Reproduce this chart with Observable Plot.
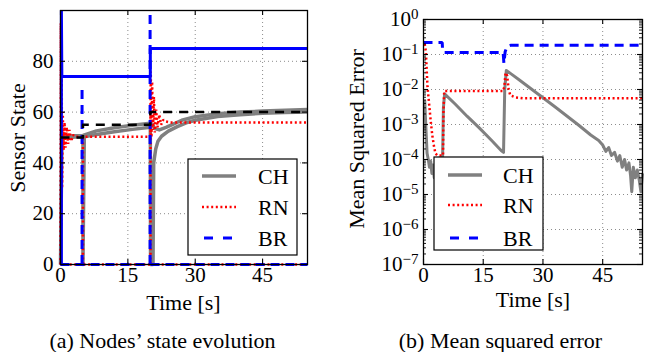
<!DOCTYPE html>
<html><head><meta charset="utf-8">
<script src="https://cdn.jsdelivr.net/npm/d3@7"></script>
<script src="https://cdn.jsdelivr.net/npm/@observablehq/plot@0.6"></script>
<style>
body{margin:0;background:#fff;}
#wrap{position:relative;width:645px;height:352px;font-family:"Liberation Serif","Times New Roman",serif;color:#000;overflow:hidden;}
#wrap svg{position:absolute;top:0;}
#wrap svg.pl text{font-family:"Liberation Serif","Times New Roman",serif !important;font-size:21px;fill:#000;}
#wrap svg.pl tspan.sup{font-size:15px;}
#wrap svg.ov text{font-family:"Liberation Serif","Times New Roman",serif;font-size:22px;fill:#000;}
</style></head><body>
<div id="wrap"></div>
<script>
// ---------- shared ----------
const xTicks = [0, 15, 30, 45];
const yTicksState = [0, 20, 40, 60, 80];
const mseExponents = [0, -1, -2, -3, -4, -5, -6, -7];
const seriesNames = ["CH", "RN", "BR"];
const xLabel = "Time [s]";
const yLabelA = "Sensor State";
const yLabelB = "Mean Squared Error";
const captionA = "(a) Nodes\u2019 state evolution";
const captionB = "(b) Mean squared error";

// ---------- panel (a): state evolution ----------
const refT = [0, 5, 5, 20, 20, 55];
const refV = [50, 50, 55, 55, 60, 60];

const chLoT = [0, 0.3, 0.6, 5, 5, 5.3, 8, 12, 16, 20, 20.05, 20.6, 20.75, 21.2, 21.7, 22.5, 24, 26, 28, 30, 35, 40, 45, 50, 55];
const chLoV = [0, 46, 50, 50.3, 0, 50.3, 51.2, 52.3, 53.2, 54, 0, 0, 40, 45.5, 48.5, 50.5, 52.5, 54.3, 55.8, 56.8, 58.3, 59, 59.5, 59.8, 60];
const chHiT = [0.3, 5, 8, 12, 16, 20, 20.5, 21, 22, 23.5, 25, 27, 30, 35, 40, 45, 50, 55];
const chHiV = [50.5, 50.8, 52.6, 53.8, 54.8, 55.6, 55, 53.5, 53, 54, 55.2, 56.8, 58.2, 59.4, 60, 60.4, 60.7, 61];

const rnAT = [0, 0.08, 0.15, 0.25, 0.35, 0.5, 0.7, 0.9, 1.1, 1.4, 1.7, 2.0, 2.4, 2.8, 3.2, 20, 20.1, 20.25, 20.4, 20.6, 20.8, 21.0, 21.3, 21.6, 22.0, 22.4, 22.9, 23.5, 24.5, 55];
const rnAV = [0, 95, 15, 85, 30, 60, 45, 56, 46, 54, 47.5, 53, 48.5, 51, 50.3, 50.3, 76, 50, 72, 53, 66, 52, 61, 54, 59, 55, 57, 56.3, 55.9, 55.9];
const rnJumpT = [5, 20.05];
const rnJumpTop = [50, 60];
const rnZeroT = [0, 55];
const rnZeroV = [0, 0];

const brAT = [0.2, 0.2, 0.3, 20, 20, 55];
const brAV = [0, 100, 74, 74, 85, 85];
const brSpikeT = [4.8, 19.95];
const brSpikeTop = [70, 100];
const brZeroT = [0, 55];
const brZeroV = [0, 0];

// ---------- panel (b): mean squared error ----------
const chMseT = [0.3, 0.6, 0.9, 1.2, 1.5, 1.8, 2.1, 2.4, 2.7, 3.0, 3.5, 4.0, 4.5, 4.8, 5.0, 5.3, 8, 11, 14, 17, 19.5, 20.1, 20.4, 20.8, 22, 24, 27, 30, 33, 36, 39, 42, 44, 45, 45.8, 46.5, 47.2, 48, 48.7, 49.3, 49.9, 50.5, 51, 51.6, 52, 52.3, 52.7, 53.2, 53.7, 54.2, 54.6, 55];
const chMseV = [5e-3, 8e-4, 1.5e-4, 1e-4, 6e-5, 9e-5, 4e-5, 7e-5, 3e-5, 8e-5, 1e-4, 1.1e-4, 1e-4, 1.2e-4, 3e-3, 7.5e-3, 3.8e-3, 1.7e-3, 8e-4, 3.6e-4, 1.8e-4, 1.6e-4, 1e-2, 3.5e-2, 2.8e-2, 1.9e-2, 1.05e-2, 5.8e-3, 3.2e-3, 1.75e-3, 9.5e-4, 5e-4, 3.5e-4, 2.6e-4, 1.7e-4, 2.2e-4, 1.3e-4, 1.6e-4, 9e-5, 1.3e-4, 6e-5, 1e-4, 5e-5, 8e-5, 3.5e-5, 1.2e-5, 6e-5, 3e-5, 5e-5, 2.5e-5, 1.2e-5, 4e-5];
const rnMseT = [0.3, 0.6, 1.0, 1.4, 1.8, 2.2, 2.6, 3.0, 3.5, 4.0, 4.5, 4.9, 5.0, 5.2, 20, 20.3, 20.6, 21.0, 21.4, 21.8, 22.3, 23, 24, 25, 55];
const rnMseV = [0.2, 0.12, 0.012, 0.004, 0.0013, 0.0005, 0.00025, 0.00015, 0.00013, 0.00013, 0.00013, 0.00013, 0.002, 0.009, 0.009, 0.012, 0.03, 0.025, 0.01, 0.0068, 0.0065, 0.006, 0.0058, 0.0056, 0.0056];
const brMseT = [0, 4.7, 4.8, 5.0, 20, 20.2, 20.5, 21, 22, 55];
const brMseV = [0.22, 0.22, 0.13, 0.115, 0.115, 0.055, 0.12, 0.17, 0.185, 0.185];

// ---------- helpers & styles ----------
const pts = (ts, vs) => ts.map((t, i) => ({t, v: vs[i]}));
const spikes = (ts, tops) => ts.map((t, i) => ({t, top: tops[i]}));
const sty = {
  CH: {stroke: "#808080", strokeWidth: 3.5, strokeLinecap: "butt", strokeLinejoin: "round"},
  RN: {stroke: "#ff0000", strokeWidth: 2.5, strokeDasharray: "2,2.6", strokeLinecap: "butt", strokeLinejoin: "miter"},
  BR: {stroke: "#0000ff", strokeWidth: 3, strokeDasharray: "9,6", strokeLinecap: "butt", strokeLinejoin: "miter"},
  BRsolid: {stroke: "#0000ff", strokeWidth: 3, strokeLinecap: "butt", strokeLinejoin: "miter"},
  REF: {stroke: "#000", strokeWidth: 2.5, strokeDasharray: "9,7", strokeLinecap: "butt"}
};
const gridSty = {stroke: "#8c8c8c", strokeWidth: 1, strokeDasharray: "1,3", strokeOpacity: 1};
const tickSty = {stroke: "#000", strokeWidth: 1.1};
const fontStyle = {fontFamily: "Liberation Serif", fontSize: "21px", background: "transparent", overflow: "visible", color: "#000"};

function inwardTicks(xs, ys, pw, ph, len) {
  return [
    Plot.ruleX(xs, {x: d => d, insetTop: ph - len, ...tickSty}),
    Plot.ruleX(xs, {x: d => d, insetBottom: ph - len, ...tickSty}),
    Plot.ruleY(ys, {y: d => d, insetRight: pw - len, ...tickSty}),
    Plot.ruleY(ys, {y: d => d, insetLeft: pw - len, ...tickSty})
  ];
}

const wrap = document.getElementById("wrap");

// ---------- left plot ----------
const L = {w: 330, h: 300, ml: 60, mr: 23, mt: 10, mb: 36};
const LPW = L.w - L.ml - L.mr, LPH = L.h - L.mt - L.mb;
const left = Plot.plot({
  width: L.w, height: L.h,
  marginLeft: L.ml, marginRight: L.mr, marginTop: L.mt, marginBottom: L.mb,
  style: fontStyle,
  x: {domain: [0, 55], ticks: xTicks, tickSize: 0, tickPadding: 3, label: null},
  y: {domain: [0, 100], ticks: yTicksState, tickSize: 0, tickPadding: 7, label: null},
  marks: [
    Plot.ruleY(yTicksState.filter(d => d > 0), {y: d => d, ...gridSty}),
    Plot.ruleX(xTicks.filter(d => d > 0), {x: d => d, ...gridSty}),
    Plot.line(pts(chLoT, chLoV), {x: "t", y: "v", ...sty.CH}),
    Plot.line(pts(chHiT, chHiV), {x: "t", y: "v", ...sty.CH}),
    Plot.line(pts(rnZeroT, rnZeroV), {x: "t", y: "v", ...sty.RN}),
    Plot.ruleX(spikes(rnJumpT, rnJumpTop), {x: "t", y1: 0, y2: "top", ...sty.RN}),
    Plot.line(pts(rnAT, rnAV), {x: "t", y: "v", ...sty.RN}),
    Plot.line(pts(brZeroT, brZeroV), {x: "t", y: "v", ...sty.BR}),
    Plot.ruleX(spikes(brSpikeT, brSpikeTop), {x: "t", y1: 0, y2: "top", ...sty.BR}),
    Plot.line(pts(brAT, brAV), {x: "t", y: "v", ...sty.BRsolid}),
    Plot.line(pts(refT, refV), {x: "t", y: "v", ...sty.REF}),
    ...inwardTicks(xTicks, yTicksState, LPW, LPH, 5),
    Plot.frame({stroke: "#000", strokeWidth: 1.3})
  ]
});
left.classList.add("pl");
left.style.left = "0px";
wrap.appendChild(left);

// ---------- right plot ----------
const R = {w: 315, h: 300, ml: 93, mr: 3, mt: 19, mb: 36};
const RPW = R.w - R.ml - R.mr, RPH = R.h - R.mt - R.mb;
const majorVals = mseExponents.map(e => Math.pow(10, e));
const minorVals = [];
mseExponents.filter(e => e < 0).forEach(e => { for (let m = 2; m <= 9; m++) minorVals.push(m * Math.pow(10, e)); });
const right = Plot.plot({
  width: R.w, height: R.h,
  marginLeft: R.ml, marginRight: R.mr, marginTop: R.mt, marginBottom: R.mb,
  style: fontStyle,
  x: {domain: [0, 55], ticks: xTicks, tickSize: 0, tickPadding: 3, label: null},
  y: {type: "log", domain: [1e-7, 1], ticks: majorVals, tickSize: 0, tickPadding: 5, label: null,
      tickFormat: d => "10^" + Math.round(Math.log10(d))},
  marks: [
    Plot.ruleY(majorVals.filter(d => d < 1 && d > 1e-7), {y: d => d, ...gridSty}),
    Plot.ruleX(xTicks.filter(d => d > 0), {x: d => d, ...gridSty}),
    Plot.line(pts(chMseT, chMseV), {x: "t", y: "v", ...sty.CH, strokeWidth: 3}),
    Plot.line(pts(rnMseT, rnMseV), {x: "t", y: "v", ...sty.RN}),
    Plot.line(pts(brMseT, brMseV), {x: "t", y: "v", ...sty.BR}),
    ...inwardTicks(xTicks, majorVals, RPW, RPH, 5),
    Plot.ruleY(minorVals, {y: d => d, insetRight: RPW - 3, ...tickSty, strokeWidth: 0.9}),
    Plot.ruleY(minorVals, {y: d => d, insetLeft: RPW - 3, ...tickSty, strokeWidth: 0.9}),
    Plot.frame({stroke: "#000", strokeWidth: 1.3})
  ]
});
right.classList.add("pl");
right.style.left = "330px";
wrap.appendChild(right);

// superscript exponents on log axis
const NS = "http://www.w3.org/2000/svg";
right.querySelectorAll("text").forEach(t => {
  const m = /^10\^(-?\d+)$/.exec(t.textContent);
  if (!m) return;
  t.textContent = "";
  const a = document.createElementNS(NS, "tspan"); a.textContent = "10";
  const b = document.createElementNS(NS, "tspan");
  b.textContent = m[1].replace("-", "\u2212");
  b.setAttribute("class", "sup");
  b.setAttribute("dy", "-0.45em");
  t.append(a, b);
});

// ---------- overlay: legends, axis titles, captions ----------
const ov = d3.select(wrap).append("svg")
  .attr("class", "ov")
  .attr("width", 645).attr("height", 352)
  .style("left", "0px")
  .style("pointer-events", "none");

function legend(x0, y0, w, h, lineX1, lineX2, textX, rows) {
  const g = ov.append("g");
  g.append("rect").attr("x", x0).attr("y", y0).attr("width", w).attr("height", h)
    .attr("fill", "#fff").attr("stroke", "#000").attr("stroke-width", 1.2);
  seriesNames.forEach((name, i) => {
    const s = sty[name];
    g.append("line").attr("x1", name === "BR" ? lineX1 + 2 : lineX1).attr("x2", name === "BR" ? lineX2 - 2 : lineX2)
      .attr("y1", rows[i]).attr("y2", rows[i])
      .attr("stroke", s.stroke).attr("stroke-width", s.strokeWidth)
      .attr("stroke-dasharray", name === "BR" ? "9,10" : (s.strokeDasharray || null));
    g.append("text").attr("x", textX).attr("y", rows[i]).attr("dy", "0.35em").text(name);
  });
}
legend(188, 159, 109, 96, 202, 236, 258, [176, 207, 238]);
legend(434, 157, 109, 93, 448, 482, 503, [175, 205, 238]);

const txt = (x, y, s, rot) => {
  const t = ov.append("text").attr("x", x).attr("y", y).attr("dy", "0.35em")
    .attr("text-anchor", "middle").text(s);
  if (rot) t.attr("transform", `rotate(-90,${x},${y})`);
};
txt(183.5, 302, xLabel);
txt(533, 299, xLabel);
txt(17, 138, yLabelA, true);
txt(356, 139, yLabelB, true);
txt(162.5, 340, captionA);
txt(500.5, 340, captionB);
</script>
</body></html>
